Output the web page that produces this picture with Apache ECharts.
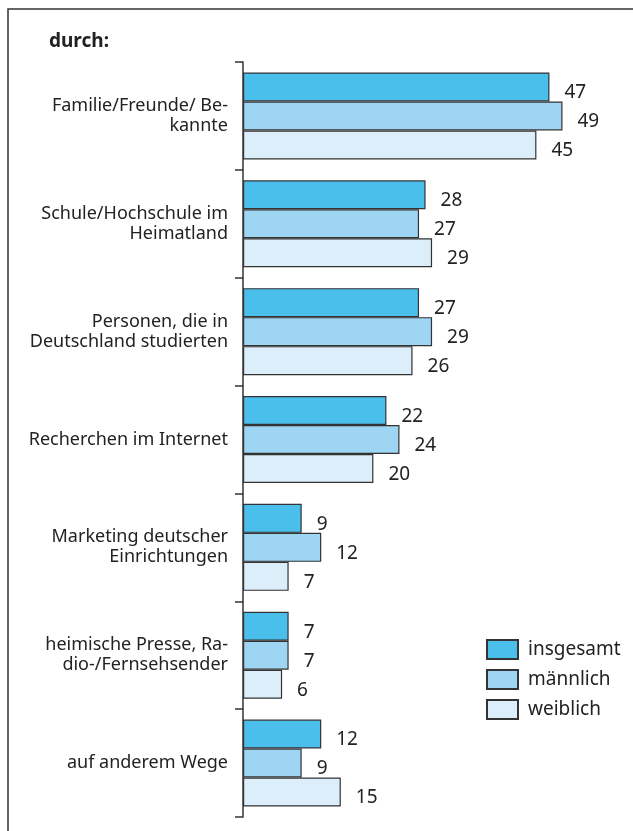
<!DOCTYPE html>
<html>
<head>
<meta charset="utf-8">
<script src="https://cdn.jsdelivr.net/npm/echarts@6/dist/echarts.min.js"></script>
<style>
  html, body { margin: 0; padding: 0; background: #fff; }
  #chart { width: 633px; height: 831px; }
</style>
</head>
<body>
<div id="chart"></div>
<script>
// Daten
const categories = [
    'Familie/Freunde/ Be-\nkannte',
    'Schule/Hochschule im\nHeimatland',
    'Personen, die in\nDeutschland studierten',
    'Recherchen im Internet',
    'Marketing deutscher\nEinrichtungen',
    'heimische Presse, Ra-\ndio-/Fernsehsender',
    'auf anderem Wege'
];
const insgesamt = [47, 28, 27, 22, 9, 7, 12];
const maennlich = [49, 27, 29, 24, 12, 7, 9];
const weiblich = [45, 29, 26, 20, 7, 6, 15];

const font = '"Noto Sans", sans-serif';
const chart = echarts.init(document.getElementById('chart'));

const mkSeries = (name, data, color) => ({
    name: name,
    type: 'bar',
    data: data,
    barWidth: 29,
    barGap: '0%',
    itemStyle: { color: color, borderColor: '#333', borderWidth: 1.2 },
    label: {
        show: true,
        position: 'right',
        distance: 15,
        offset: [0, 6],
        color: '#222',
        fontSize: 19,
        fontFamily: font
    }
});

chart.setOption({
    animation: false,
    title: {
        text: 'durch:',
        left: 44,
        top: 27,
        textStyle: { fontSize: 19, fontWeight: 'bold', color: '#222', fontFamily: font }
    },
    legend: {
        orient: 'vertical',
        left: 481,
        top: 634,
        itemWidth: 31,
        itemHeight: 19,
        itemGap: 9,
        icon: 'rect',
        textStyle: { fontSize: 19, color: '#222', fontFamily: font, padding: [0, 0, 0, 5] }
    },
    graphic: [{
        type: 'rect',
        shape: { x: 8, y: 9, width: 700, height: 900 },
        style: { fill: null, stroke: '#333', lineWidth: 1.5 },
        silent: true
    }],
    grid: { left: 243, top: 62, right: 64, bottom: 14 },
    xAxis: {
        type: 'value',
        min: 0,
        max: 50,
        show: false
    },
    yAxis: {
        type: 'category',
        inverse: true,
        data: categories,
        axisLine: { show: true, lineStyle: { color: '#333', width: 1.5 } },
        axisTick: { show: true, length: 8, lineStyle: { color: '#333', width: 1.5 } },
        axisLabel: {
            margin: 15,
            fontSize: 18,
            lineHeight: 20,
            color: '#222',
            fontFamily: font,
            align: 'right'
        }
    },
    series: [
        mkSeries('insgesamt', insgesamt, '#4bbfec'),
        mkSeries('männlich', maennlich, '#9dd5f2'),
        mkSeries('weiblich', weiblich, '#dceefa')
    ]
});
</script>
</body>
</html>
